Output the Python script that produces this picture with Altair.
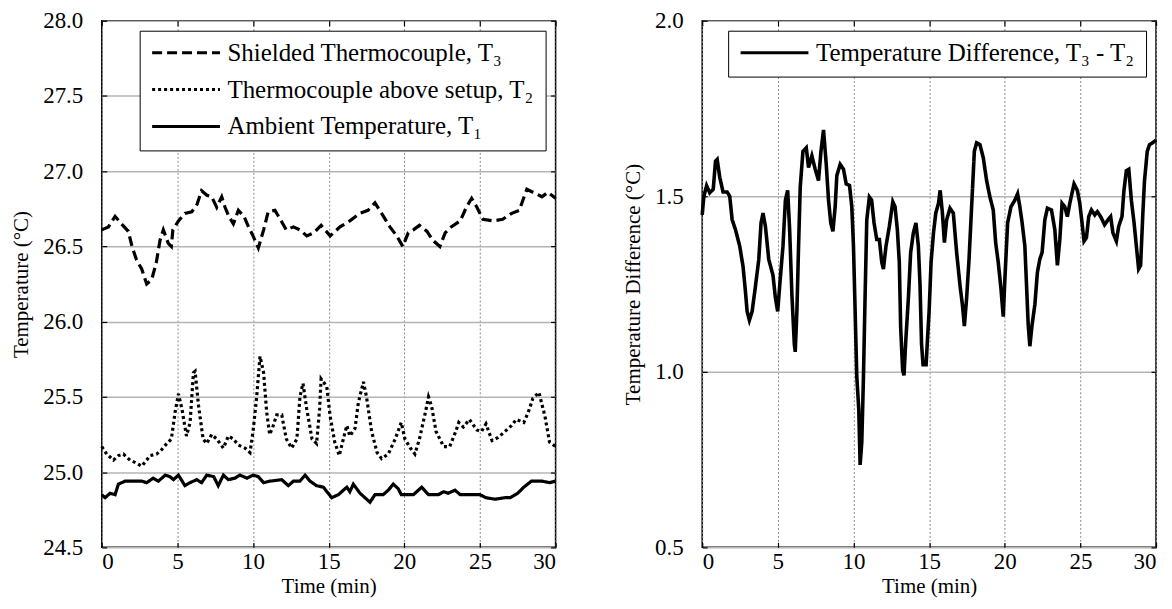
import altair as alt
import pandas as pd

FONT = "Liberation Serif"

# ---------------- data ----------------
t3_time = [0, 0.44, 0.88, 1.3, 1.76, 2.0, 2.3, 2.64, 2.97, 3.3, 3.6, 3.85, 4.07, 4.4, 4.6, 4.7,
           5.07, 5.5, 5.95, 6.3, 6.6, 6.95, 7.27, 7.6, 7.93, 8.15, 8.4, 8.7, 9.03, 9.4, 9.7,
           10.0, 10.35, 10.7, 11.0, 11.45, 11.8, 12.2, 12.67, 13.1, 13.55, 14.0, 14.5, 15.1,
           15.75, 16.4, 17.07, 17.6, 18.06, 18.5, 19.05, 19.5, 19.9, 20.26, 20.6, 21.0, 21.5,
           21.9, 22.35, 22.7, 23.1, 23.7, 24.1, 24.45, 24.8, 25.2, 25.9, 26.5, 27.1, 27.6,
           28.1, 28.5, 29.1, 29.5, 30.0]
t3_vals = [26.61, 26.63, 26.70, 26.65, 26.60, 26.50, 26.41, 26.35, 26.25, 26.28, 26.39, 26.54,
           26.61, 26.52, 26.50, 26.61, 26.67, 26.72, 26.73, 26.78, 26.87, 26.84, 26.83, 26.76,
           26.83, 26.76, 26.70, 26.65, 26.74, 26.70, 26.63, 26.57, 26.49, 26.61, 26.73, 26.74,
           26.68, 26.61, 26.63, 26.61, 26.57, 26.59, 26.64, 26.57, 26.63, 26.67, 26.72, 26.74,
           26.79, 26.72, 26.63, 26.57, 26.50, 26.59, 26.61, 26.64, 26.60, 26.54, 26.50, 26.59,
           26.63, 26.67, 26.76, 26.82, 26.76, 26.68, 26.67, 26.68, 26.72, 26.74, 26.88, 26.86,
           26.83, 26.86, 26.82]

t2_time = [0, 0.33, 0.77, 1.1, 1.43, 1.87, 2.3, 2.64, 2.97, 3.2, 3.63, 3.96, 4.3, 4.6, 4.85,
           5.07, 5.3, 5.6, 5.84, 6.06, 6.17, 6.4, 6.7, 6.94, 7.27, 7.6, 8.04, 8.37, 8.7, 9.03,
           9.47, 9.8, 10.0, 10.24, 10.46, 10.7, 10.9, 11.1, 11.34, 11.56, 11.9, 12.2, 12.55,
           12.9, 13.1, 13.3, 13.55, 13.9, 14.2, 14.4, 14.5, 14.87, 15.1, 15.4, 15.7, 15.97,
           16.2, 16.4, 16.74, 16.96, 17.3, 17.5, 17.84, 18.2, 18.5, 18.94, 19.4, 19.8, 20.04,
           20.4, 20.7, 21.0, 21.4, 21.6, 21.8, 22.1, 22.6, 23.0, 23.4, 23.6, 23.9, 24.3, 24.8,
           25.1, 25.4, 25.8, 26.2, 26.65, 27.1, 27.4, 27.9, 28.2, 28.5, 28.9, 29.3, 29.6, 30.0]
t2_vals = [25.17, 25.12, 25.08, 25.11, 25.12, 25.08, 25.06, 25.04, 25.08, 25.11, 25.12, 25.15,
           25.19, 25.22, 25.40, 25.52, 25.42, 25.24, 25.33, 25.66, 25.67, 25.44, 25.22, 25.19,
           25.25, 25.22, 25.16, 25.24, 25.22, 25.18, 25.16, 25.13, 25.27, 25.50, 25.77, 25.66,
           25.40, 25.25, 25.31, 25.38, 25.38, 25.22, 25.16, 25.22, 25.50, 25.59, 25.42, 25.22,
           25.19, 25.42, 25.62, 25.57, 25.37, 25.20, 25.11, 25.22, 25.31, 25.24, 25.29, 25.46,
           25.60, 25.50, 25.27, 25.13, 25.09, 25.12, 25.22, 25.33, 25.22, 25.16, 25.12, 25.22,
           25.40, 25.50, 25.44, 25.27, 25.17, 25.17, 25.27, 25.33, 25.30, 25.35, 25.28, 25.27,
           25.32, 25.21, 25.23, 25.27, 25.31, 25.35, 25.33, 25.40, 25.49, 25.53, 25.37, 25.20,
           25.17]

t1_time = [0, 0.22, 0.55, 0.88, 1.1, 1.54, 2.1, 2.64, 2.97, 3.4, 3.74, 4.2, 4.5, 4.74, 5.07,
           5.5, 5.84, 6.28, 6.6, 6.94, 7.4, 7.7, 8.04, 8.37, 8.8, 9.14, 9.6, 10.0, 10.35, 10.7,
           11.1, 11.9, 12.33, 12.67, 13.1, 13.44, 13.77, 14.2, 14.65, 15.2, 15.64, 16.2, 16.4,
           16.63, 17.07, 17.4, 17.73, 18.06, 18.6, 18.94, 19.27, 19.6, 19.8, 20.6, 21.15, 21.6,
           22.25, 22.6, 22.9, 23.35, 23.7, 25.0, 25.4, 26.0, 26.65, 27.0, 27.5, 27.9, 28.4,
           29.1, 29.6, 30.0]
t1_vals = [24.85, 24.83, 24.86, 24.85, 24.92, 24.94, 24.94, 24.94, 24.93, 24.96, 24.94, 24.98,
           24.97, 24.95, 24.98, 24.91, 24.93, 24.95, 24.93, 24.98, 24.97, 24.91, 24.98, 24.95,
           24.96, 24.98, 24.96, 24.98, 24.97, 24.93, 24.94, 24.95, 24.91, 24.94, 24.94, 24.98,
           24.94, 24.91, 24.90, 24.83, 24.85, 24.90, 24.87, 24.92, 24.86, 24.83, 24.80, 24.85,
           24.85, 24.88, 24.92, 24.89, 24.85, 24.85, 24.90, 24.85, 24.85, 24.87, 24.86, 24.88,
           24.85, 24.85, 24.83, 24.82, 24.83, 24.83, 24.86, 24.90, 24.94, 24.94, 24.93, 24.94]

diff_time = [0, 0.11, 0.29, 0.5, 0.73, 0.88, 0.99, 1.16, 1.38, 1.65, 1.82, 1.98, 2.2, 2.48, 2.7,
             2.86, 2.97, 3.12, 3.3, 3.5, 3.74, 3.89, 4.02, 4.18, 4.4, 4.68, 4.84, 4.99, 5.16,
             5.34, 5.5, 5.65, 5.78, 5.93, 6.09, 6.15, 6.26, 6.37, 6.48, 6.66, 6.88, 7.03, 7.25,
             7.47, 7.69, 7.85, 8.02, 8.2, 8.35, 8.5, 8.64, 8.79, 8.9, 9.12, 9.34, 9.52, 9.74,
             9.89, 10.0, 10.1, 10.22, 10.35, 10.44, 10.55, 10.66, 10.77, 10.88, 11.05, 11.2,
             11.36, 11.54, 11.71, 11.87, 11.98, 12.15, 12.37, 12.6, 12.75, 12.9, 13.03, 13.12,
             13.25, 13.34, 13.47, 13.63, 13.78, 13.96, 14.13, 14.29, 14.4, 14.5, 14.6, 14.8,
             14.9, 15.0, 15.13, 15.29, 15.44, 15.62, 15.73, 15.88, 16.01, 16.16, 16.38, 16.6,
             16.82, 17.04, 17.2, 17.33, 17.48, 17.64, 17.81, 17.99, 18.14, 18.36, 18.58, 18.8,
             19.02, 19.24, 19.4, 19.57, 19.75, 19.9, 20.01, 20.19, 20.41, 20.67, 20.85, 21.0,
             21.15, 21.33, 21.44, 21.55, 21.66, 21.81, 21.99, 22.16, 22.32, 22.47, 22.65, 22.82,
             23.09, 23.31, 23.48, 23.64, 23.79, 23.97, 24.14, 24.3, 24.58, 24.8, 24.96, 25.11,
             25.24, 25.4, 25.55, 25.73, 25.95, 26.12, 26.34, 26.6, 26.83, 27.0, 27.15, 27.38,
             27.53, 27.75, 27.88, 28.04, 28.2, 28.37, 28.55, 28.7, 28.85, 28.98, 29.13, 29.24,
             29.42, 29.57, 29.9, 30.0]
diff_vals = [1.447, 1.50, 1.53, 1.51, 1.52, 1.60, 1.605, 1.554, 1.512, 1.512, 1.50, 1.433, 1.405,
             1.358, 1.30, 1.228, 1.172, 1.147, 1.172, 1.237, 1.32, 1.424, 1.452, 1.414, 1.32,
             1.275, 1.21, 1.172, 1.265, 1.358, 1.489, 1.517, 1.405, 1.219, 1.079, 1.057, 1.172,
             1.358, 1.526, 1.628, 1.638, 1.582, 1.615, 1.577, 1.545, 1.628, 1.689, 1.591, 1.489,
             1.424, 1.40, 1.47, 1.559, 1.591, 1.577, 1.535, 1.531, 1.47, 1.358, 1.19, 0.986,
             0.893, 0.735, 0.80, 0.986, 1.219, 1.433, 1.498, 1.489, 1.424, 1.377, 1.377, 1.312,
             1.293, 1.358, 1.414, 1.484, 1.47, 1.405, 1.312, 1.126, 1.005, 0.99, 1.098, 1.21,
             1.34, 1.396, 1.424, 1.358, 1.247, 1.079, 1.02, 1.02, 1.098, 1.172, 1.312, 1.396,
             1.452, 1.48, 1.517, 1.452, 1.368, 1.433, 1.466, 1.452, 1.34, 1.247, 1.191, 1.13,
             1.21, 1.321, 1.47, 1.628, 1.652, 1.647, 1.61, 1.545, 1.498, 1.461, 1.368, 1.312,
             1.237, 1.157, 1.265, 1.424, 1.47, 1.489, 1.507, 1.47, 1.424, 1.358, 1.247, 1.135,
             1.073, 1.135, 1.191, 1.284, 1.321, 1.34, 1.433, 1.466, 1.461, 1.405, 1.303, 1.377,
             1.48, 1.47, 1.442, 1.48, 1.535, 1.517, 1.48, 1.424, 1.372, 1.382, 1.442, 1.461,
             1.447, 1.456, 1.442, 1.419, 1.433, 1.442, 1.396, 1.372, 1.414, 1.442, 1.517, 1.573,
             1.577, 1.489, 1.424, 1.358, 1.293, 1.303, 1.452, 1.545, 1.628, 1.647, 1.656, 1.66]

left_names = ["Shielded Thermocouple, T\u2083",
              "Thermocouple above setup, T\u2082",
              "Ambient Temperature, T\u2081"]
right_names = ["Temperature Difference, T\u2083 - T\u2082"]

x_ticks = [0, 5, 10, 15, 20, 25, 30]
left_y_ticks = [24.5, 25.0, 25.5, 26.0, 26.5, 27.0, 27.5, 28.0]
right_y_ticks = [0.5, 1.0, 1.5, 2.0]

# ---------------- tables ----------------
rows = []
for name, ts, vs in zip(left_names, [t3_time, t2_time, t1_time], [t3_vals, t2_vals, t1_vals]):
    rows += [{"time": t, "temp": v, "series": name} for t, v in zip(ts, vs)]
left_df = pd.DataFrame(rows)
right_df = pd.DataFrame({"time": diff_time, "temp": diff_vals, "series": right_names[0]})

W, H = 455, 528
TXT = dict(labelFont=FONT, titleFont=FONT, labelFontSize=23, titleFontSize=21,
           titleFontWeight="normal", labelColor="black", titleColor="black",
           tickColor="black", tickWidth=1.2)
GRIDX = dict(grid=True, gridColor="#8a8a8a", gridDash=[2, 2], gridWidth=1)
GRIDY = dict(grid=True, gridColor="#b4b4b4", gridWidth=1.5)


def panel(df, names, dashes, ydom, yticks, ytitle, sw):
    xs = alt.Scale(domain=[0, 30], nice=False, zero=False)
    ys = alt.Scale(domain=ydom, nice=False, zero=False)
    lines = alt.Chart(df).mark_line(strokeWidth=sw, color="black").encode(
        x=alt.X("time:Q", scale=xs,
                axis=alt.Axis(title="Time (min)", values=x_ticks, format="d", offset=-5, tickSize=5,
                              domain=False, labelPadding=3, titlePadding=2, **GRIDX, **TXT)),
        y=alt.Y("temp:Q", scale=ys,
                axis=alt.Axis(title=ytitle, values=yticks, format=".1f", offset=-5, tickSize=5,
                              domain=False, labelPadding=19, titlePadding=11, **GRIDY, **TXT)),
        strokeDash=alt.StrokeDash(
            "series:N",
            scale=alt.Scale(domain=names, range=dashes),
            legend=alt.Legend(title=None, orient="top-right", offset=10, symbolType="stroke",
                              symbolSize=4624, symbolStrokeWidth=3, symbolStrokeColor="black",
                              labelFont=FONT, labelFontSize=25, labelLimit=800, labelOffset=6,
                              labelColor="black", clipHeight=22, rowPadding=12,
                              padding=11, strokeColor="black", fillColor="white"),
        ),
    )
    ticks = alt.Chart(df).mark_line(opacity=0).encode(
        x=alt.X("time:Q", scale=xs,
                axis=alt.Axis(orient="top", title=None, values=x_ticks, labels=False, grid=False,
                              domain=False, offset=-5, tickSize=5, tickColor="black", tickWidth=1.2)),
        y=alt.Y("temp:Q", scale=ys,
                axis=alt.Axis(orient="right", title=None, values=yticks, labels=False, grid=False,
                              domain=False, offset=-5, tickSize=5, tickColor="black", tickWidth=1.2)),
    )
    return alt.layer(lines, ticks).resolve_axis(x="independent", y="independent").properties(
        width=W, height=H)


left = panel(left_df, left_names, [[10, 5], [3, 3], [1, 0]], [24.5, 28.0], left_y_ticks,
             "Temperature (\u00b0C)", 3.2)
right = panel(right_df, right_names, [[1, 0]], [0.5, 2.0], right_y_ticks,
              "Temperature Difference (\u00b0C)", 3.6)

chart = alt.hconcat(left, right, spacing=58).resolve_scale(strokeDash="independent").properties(
    padding={"left": 2, "top": 0, "right": 0, "bottom": 0}, background="white"
).configure(font=FONT).configure_view(stroke="black", strokeWidth=1.5).configure_axis(**TXT)

chart.save("out.html", embed_options={"renderer": "svg", "actions": False})
